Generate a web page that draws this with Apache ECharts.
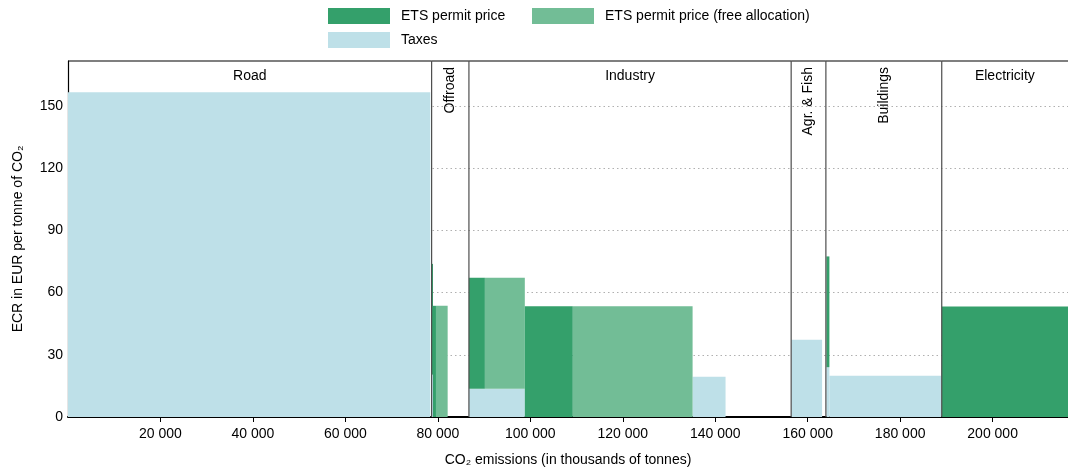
<!DOCTYPE html>
<html><head><meta charset="utf-8">
<script src="https://cdn.jsdelivr.net/npm/echarts@6/dist/echarts.min.js"></script>
<style>html,body{margin:0;padding:0;background:#fff}#c{width:1068px;height:472px}</style>
</head><body><div id="c"></div>
<script>
// Sectors (x in thousands of tonnes CO2)
const sectorNames = ['Road', 'Offroad', 'Industry', 'Agr. & Fish', 'Buildings', 'Electricity'];
const sectorStart = [0, 78650, 86720, 156420, 163930, 188990];
const sectorEnd = [78650, 86720, 156420, 163930, 188990, 216300];
const sectorVertical = [false, true, false, true, true, false];

// Bars: emissions start, end of paid ETS part, end; tax and ETS price (EUR/t)
const barStart    = [0,     78660, 78950, 86720, 98810,  135100, 156470, 164040, 164690, 188990];
const barPaidEnd  = [0,     78950, 79590, 90170, 109180, 135100, 156470, 164690, 164690, 216300];
const barEnd      = [78360, 78950, 82120, 98810, 135100, 142230, 163110, 164690, 188880, 216300];
const taxValues   = [156.5, 20.4,  0,     13.6,  0,      19.4,   37.2,   24.0,   19.9,   0];
const etsValues   = [0,     53.4,  53.6,  53.5,  53.4,   0,      0,      53.4,   0,      53.3];

const xTicks = [20000, 40000, 60000, 80000, 100000, 120000, 140000, 160000, 180000, 200000];
const yTicks = [0, 30, 60, 90, 120, 150];

const C_PAID = '#34a06b', C_FREE = '#72bd96', C_TAX = '#bee0e8';
const FONT = "'Liberation Sans',Arial,sans-serif";
const FS = 14;

const taxData = [], paidData = [], freeData = [];
for (let i = 0; i < barStart.length; i++) {
  if (taxValues[i] > 0) taxData.push([barStart[i], barEnd[i], 0, taxValues[i]]);
  if (etsValues[i] > 0) {
    const top = taxValues[i] + etsValues[i];
    if (barPaidEnd[i] > barStart[i]) paidData.push([barStart[i], barPaidEnd[i], taxValues[i], top]);
    if (barEnd[i] > barPaidEnd[i]) freeData.push([barPaidEnd[i], barEnd[i], taxValues[i], top]);
  }
}
const sectorData = sectorNames.map((n, i) => [sectorStart[i], sectorEnd[i], i]);

function rectItem(params, api) {
  const p0 = api.coord([api.value(0), api.value(3)]);
  const p1 = api.coord([api.value(1), api.value(2)]);
  return { type: 'rect', shape: { x: p0[0], y: p0[1], width: p1[0] - p0[0], height: p1[1] - p0[1] },
    style: { fill: api.visual('color') } };
}
function sectorItem(params, api) {
  const i = api.value(2);
  const cs = params.coordSys;
  const top = cs.y, bottom = cs.y + cs.height;
  const x0 = api.coord([api.value(0), 0])[0];
  const x1 = api.coord([api.value(1), 0])[0];
  const cx = (x0 + x1) / 2;
  const children = [];
  children.push({ type: 'line', shape: { x1: x0, y1: top, x2: x1, y2: top },
    style: { stroke: '#000', lineWidth: 1.2 } });
  if (i > 0) children.push({ type: 'line', shape: { x1: x0, y1: top, x2: x0, y2: bottom },
    style: { stroke: '#4d4d4d', lineWidth: 1.2 } });
  if (sectorVertical[i]) {
    children.push({ type: 'text', x: cx, y: top + 6, rotation: Math.PI / 2,
      style: { text: sectorNames[i], align: 'right', verticalAlign: 'middle', fill: '#000', font: FS + 'px ' + FONT } });
  } else {
    children.push({ type: 'text', x: cx, y: top + 15,
      style: { text: sectorNames[i], align: 'center', verticalAlign: 'middle', fill: '#000', font: FS + 'px ' + FONT } });
  }
  return { type: 'group', children };
}
const fmt = v => String(v).replace(/\B(?=(\d{3})+(?!\d))/g, ' ');

const legendBase = { icon: 'rect', itemWidth: 62, itemHeight: 16, selectedMode: false, padding: 0,
  textStyle: { fontFamily: FONT, fontSize: FS, color: '#000', padding: [0, 0, 0, 6] } };

const chart = echarts.init(document.getElementById('c'), null, { renderer: 'canvas' });
chart.setOption({
  animation: false,
  textStyle: { fontFamily: FONT },
  legend: [
    Object.assign({ left: 328, top: 8, data: ['ETS permit price'] }, legendBase),
    Object.assign({ left: 532, top: 8, data: ['ETS permit price (free allocation)'] }, legendBase),
    Object.assign({ left: 328, top: 32, data: ['Taxes'] }, legendBase)
  ],
  grid: { left: 68, right: 0, top: 61, bottom: 55, show: false, containLabel: false },
  xAxis: {
    type: 'value', min: 0, max: 216300,
    name: 'CO₂ emissions (in thousands of tonnes)', nameLocation: 'middle', nameGap: 36,
    nameTextStyle: { fontFamily: FONT, fontSize: FS, color: '#000' },
    axisLine: { show: true, onZero: false, lineStyle: { color: '#000', width: 2 } },
    axisTick: { show: true, length: 5, customValues: xTicks, lineStyle: { color: '#000' } },
    axisLabel: { customValues: xTicks, formatter: fmt, color: '#000', fontSize: FS, fontFamily: FONT, margin: 10 },
    splitLine: { show: false }
  },
  yAxis: {
    type: 'value', min: 0, max: 171.6,
    name: 'ECR in EUR per tonne of CO₂', nameLocation: 'middle', nameGap: 43,
    nameTextStyle: { fontFamily: FONT, fontSize: FS, color: '#000' },
    axisLine: { show: true, lineStyle: { color: '#000', width: 1.2 } },
    axisTick: { show: false, customValues: yTicks },
    axisLabel: { customValues: yTicks, color: '#000', fontSize: FS, fontFamily: FONT, margin: 5 },
    splitLine: { show: true, lineStyle: { color: '#b0b0b0', type: [1.5, 3], width: 1 } }
  },
  series: [
    { name: 'Taxes', type: 'custom', renderItem: rectItem, data: taxData, itemStyle: { color: C_TAX },
      encode: { x: [0, 1], y: [2, 3] }, silent: true },
    { name: 'ETS permit price (free allocation)', type: 'custom', renderItem: rectItem, data: freeData,
      itemStyle: { color: C_FREE }, encode: { x: [0, 1], y: [2, 3] }, silent: true },
    { name: 'ETS permit price', type: 'custom', renderItem: rectItem, data: paidData, itemStyle: { color: C_PAID },
      encode: { x: [0, 1], y: [2, 3] }, silent: true },
    { name: 'sectors', type: 'custom', renderItem: sectorItem, data: sectorData,
      encode: { x: [0, 1] }, silent: true, z: 5 }
  ]
});
</script></body></html>
